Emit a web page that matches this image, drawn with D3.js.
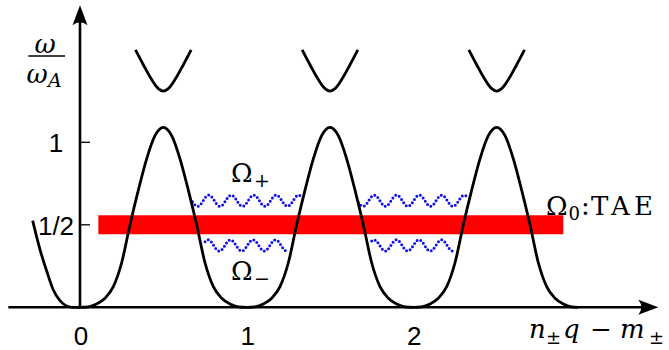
<!DOCTYPE html>
<html>
<head>
<meta charset="utf-8">
<script src="https://cdn.jsdelivr.net/npm/d3@7"></script>
<style>
  body { margin: 0; background: #fff; }
  svg { display: block; }
</style>
</head>
<body>
<div id="chart"></div>
<script>
(function() {

  // lower continuum branch (x = n q - m, w = omega / omega_A)
  var contX = [-0.284, -0.24, -0.2, -0.16, -0.12, -0.08, -0.04,
    0, 0.05, 0.1, 0.15, 0.2, 0.25, 0.3, 0.35, 0.4, 0.45, 0.5, 0.55, 0.6, 0.65, 0.7, 0.75, 0.8, 0.85, 0.9, 0.95,
    1, 1.05, 1.1, 1.15, 1.2, 1.25, 1.3, 1.35, 1.4, 1.45, 1.5, 1.55, 1.6, 1.65, 1.7, 1.75, 1.8, 1.85, 1.9, 1.95,
    2, 2.05, 2.1, 2.15, 2.2, 2.25, 2.3, 2.35, 2.4, 2.45, 2.5, 2.55, 2.6, 2.65, 2.7, 2.75, 2.8, 2.85, 2.9, 2.95, 2.99];
  var contW = [0.525, 0.35, 0.22, 0.105, 0.04, 0.008, 0.0,
    0, 0.003, 0.02, 0.055, 0.125, 0.27, 0.5, 0.71, 0.9, 1.04, 1.09, 1.04, 0.9, 0.71, 0.5, 0.27, 0.125, 0.055, 0.02, 0.003,
    0, 0.003, 0.02, 0.055, 0.125, 0.27, 0.5, 0.71, 0.9, 1.04, 1.09, 1.04, 0.9, 0.71, 0.5, 0.27, 0.125, 0.055, 0.02, 0.003,
    0, 0.003, 0.02, 0.055, 0.125, 0.27, 0.5, 0.71, 0.9, 1.04, 1.09, 1.04, 0.9, 0.71, 0.5, 0.27, 0.125, 0.055, 0.02, 0.003, 0];

  // upper continuum branches, one per gap
  var upperCenters = [0.5, 1.5, 2.5];
  var upperDX = [-0.167, -0.12, -0.07, -0.03, 0, 0.03, 0.07, 0.12, 0.167];
  var upperW = [1.56, 1.47, 1.38, 1.325, 1.31, 1.325, 1.38, 1.47, 1.56];

  // TAE band
  var taeX = [0.11, 2.9];
  var taeW = 0.5;

  // Omega+ / Omega- wavy modes
  var waveFrom = [0.675, 0.75, 1.67, 1.75];
  var waveTo = [1.332, 1.248, 2.323, 2.24];
  var waveW = [0.646, 0.375, 0.646, 0.375];

  var yTicks = [1, 0.5];
  var yTickLabels = ["1", "1/2"];
  var xTicks = [0, 1, 2];

  var serif = "'DejaVu Serif', serif";
  var sans = "'Liberation Sans', Arial, sans-serif";

  var width = 669, height = 350;

  var svg = d3.select("#chart")
    .append("svg")
    .attr("width", width)
    .attr("height", height);

  var x = d3.scaleLinear().domain([0, 3]).range([80, 580]);
  var y = d3.scaleLinear().domain([0, 1]).range([307.3, 142.3]);

  // TAE band
  svg.append("line")
    .attr("x1", x(taeX[0])).attr("x2", x(taeX[1]))
    .attr("y1", y(taeW)).attr("y2", y(taeW))
    .attr("stroke", "#ff0000")
    .attr("stroke-width", 19);

  // wavy dotted modes
  var lambda = 22.5, amp = 5.6;
  waveW.forEach(function(w, i) {
    var x0 = x(waveFrom[i]), x1 = x(waveTo[i]);
    var peak0 = x((waveFrom[i] + waveTo[i]) / 2) - 38.5;
    var pts = d3.range(x0, x1 + 0.01, 0.5).map(function(px) {
      return [px, y(w) - amp * Math.cos(2 * Math.PI * (px - peak0) / lambda)];
    });
    svg.append("path")
      .attr("d", d3.line()(pts))
      .attr("fill", "none")
      .attr("stroke", "#1010e8")
      .attr("stroke-width", 3)
      .attr("stroke-linecap", "round")
      .attr("stroke-dasharray", "0 3.9");
  });

  // continuum curves
  var contLine = d3.line()
    .x(function(d) { return x(d[0]); })
    .y(function(d) { return y(d[1]); })
    .curve(d3.curveMonotoneX);

  svg.append("path")
    .attr("d", contLine(contX.map(function(v, i) { return [v, contW[i]]; })))
    .attr("fill", "none")
    .attr("stroke", "#000")
    .attr("stroke-width", 2.8);

  var upLine = d3.line()
    .x(function(d) { return x(d[0]); })
    .y(function(d) { return y(d[1]); })
    .curve(d3.curveCatmullRom);

  upperCenters.forEach(function(c) {
    svg.append("path")
      .attr("d", upLine(upperDX.map(function(dx, i) { return [c + dx, upperW[i]]; })))
      .attr("fill", "none")
      .attr("stroke", "#000")
      .attr("stroke-width", 2.8);
  });

  // axes
  var y0 = y(0), x0 = x(0);
  var yTop = y(1.83), xLeft = x(-0.43), xRight = x(3.47);

  svg.append("line")
    .attr("x1", xLeft).attr("x2", xRight - 10)
    .attr("y1", y0).attr("y2", y0)
    .attr("stroke", "#000").attr("stroke-width", 2.6);
  svg.append("line")
    .attr("x1", x0).attr("x2", x0)
    .attr("y1", y0).attr("y2", yTop + 10)
    .attr("stroke", "#000").attr("stroke-width", 2.6);

  svg.append("path")
    .attr("d", "M" + x0 + "," + yTop + " L" + (x0 - 7.5) + "," + (yTop + 20) +
      " Q" + x0 + "," + (yTop + 14) + " " + (x0 + 7.5) + "," + (yTop + 20) + " Z")
    .attr("fill", "#000");
  svg.append("path")
    .attr("d", "M" + xRight + "," + y0 + " L" + (xRight - 20) + "," + (y0 - 7.5) +
      " Q" + (xRight - 14) + "," + y0 + " " + (xRight - 20) + "," + (y0 + 7.5) + " Z")
    .attr("fill", "#000");

  function txt(px, py, s, size, family, italic) {
    return svg.append("text")
      .attr("x", px).attr("y", py)
      .attr("font-family", family)
      .attr("font-size", size)
      .attr("font-style", italic ? "italic" : "normal")
      .attr("fill", "#000")
      .text(s);
  }

  // y ticks
  yTicks.forEach(function(t, i) {
    svg.append("line")
      .attr("x1", x0).attr("x2", x0 + 10)
      .attr("y1", y(t)).attr("y2", y(t))
      .attr("stroke", "#000").attr("stroke-width", 1.3);
    txt(56, y(t) + 10, yTickLabels[i], 26, sans, false)
      .attr("text-anchor", "middle");
  });

  // x tick labels
  xTicks.forEach(function(t) {
    txt(x(t) + 1, 345, t, 26, sans, false)
      .attr("text-anchor", "middle");
  });

  // y label: omega / omega_A
  txt(45, 53, "ω", 26, serif, true).attr("text-anchor", "middle");
  svg.append("line")
    .attr("x1", 28.3).attr("x2", 65)
    .attr("y1", 56).attr("y2", 56)
    .attr("stroke", "#000").attr("stroke-width", 1.6);
  txt(26.5, 83.3, "ω", 26, serif, true);
  txt(48, 87, "A", 19, serif, true);

  // x label: n± q − m±
  txt(529, 338, "n", 26, serif, true);
  txt(546, 344, "±", 18, serif, false);
  txt(563, 338, "q", 26, serif, true);
  txt(590, 338, "−", 26, serif, false);
  txt(620, 338, "m", 26, serif, true);
  txt(649, 344, "±", 18, serif, false);

  // Omega labels
  txt(231, 181.5, "Ω", 26, serif, false);
  txt(254, 186.5, "+", 19, serif, false);
  txt(231, 280, "Ω", 26, serif, false);
  txt(254, 285, "−", 19, serif, false);

  // Omega_0 : TAE
  txt(546, 215, "Ω", 26, serif, false);
  txt(568.5, 220, "0", 18, serif, false);
  txt(581, 215, ":", 26, serif, false);
  txt(591, 215, "TAE", 26, serif, false).attr("textLength", 62);

})();
</script>
</body>
</html>
